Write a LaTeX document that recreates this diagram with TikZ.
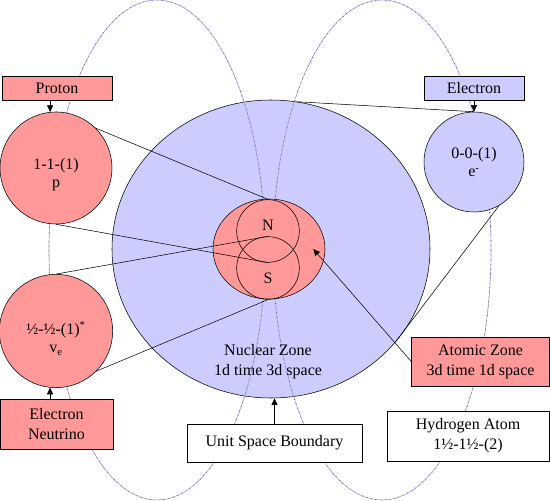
\documentclass[tikz,border=0pt]{standalone}
\usepackage{fontspec}
\setmainfont{Liberation Serif}
\definecolor{ZonePink}{RGB}{255,153,153}
\definecolor{ZoneLav} {RGB}{204,204,255}
\definecolor{OrbitBlue}{RGB}{165,165,235}
\definecolor{OrbitDark}{RGB}{110,60,70}
\usetikzlibrary{arrows.meta,positioning,shapes.geometric}
\pgfdeclarelayer{background}
\pgfdeclarelayer{foreground}
\pgfsetlayers{background,main,foreground}

\begin{document}
\begin{tikzpicture}[x=0.75pt,y=-0.75pt,line width=0.6pt,
  font=\fontsize{12}{15}\selectfont,
  zone/.style={ellipse,draw,inner sep=0pt},
  ball/.style={circle,draw,inner sep=0pt},
  pole/.style={circle,draw,inner sep=0pt,minimum size=47pt},
  tag/.style={draw,rectangle,inner sep=0pt,align=center},
  ctext/.style={align=center,inner sep=0pt,
                font=\fontsize{12}{14}\selectfont},
  orbit/.style={draw=OrbitBlue,line width=0.5pt,
                postaction={draw=OrbitDark,line width=0.5pt,
                            dash pattern=on 0.5pt off 3pt}},
  arr/.style={-{Triangle[length=5pt,width=4.5pt]}}]
  \useasboundingbox (0,0) rectangle (550,500);
  % zones and orbits
  \begin{pgfonlayer}{background}
    \node[zone,fill=ZoneLav,minimum width=238.5pt,minimum height=223.5pt]
         (nuclear) at (271,249) {};
    \draw[orbit] (157,250) ellipse [x radius=108,y radius=250];
    \draw[orbit] (382,250) ellipse [x radius=109,y radius=250];
    \node[zone,fill=ZonePink,minimum width=84pt,minimum height=75pt]
         (atomic) at (269,249) {};
    \node[pole](N) at (268,231) {};
    \node[pole](S) at (268,268) {};
    \node(Ntext) at ([yshift=4.5pt]N.center) {N};
    \node(Stext) at ([yshift=-7.5pt]S.center) {S};
    \node[align=center](nucText) at (268,362) {Nuclear Zone\\1d time 3d space};
  \end{pgfonlayer}
  % particles and labels
  \begin{pgfonlayer}{foreground}
    \node[ball,fill=ZonePink,minimum size=84pt](proton) at (56,168) {};
    \node[ctext](protonText) at ([yshift=-5pt]proton.center) {1-1-(1)\\p};
    \node[ball,fill=ZonePink,minimum size=85pt](neutrino) at (56,331) {};
    \node[ctext](neutrinoText) at ([yshift=-5.5pt]neutrino.center)
         {½-½-(1)\textsuperscript{*}\\v\textsubscript{e}};
    \node[ball,fill=ZoneLav,minimum size=75pt](electron) at (474,162) {};
    \node[ctext](electronText) at (electron.center) {0-0-(1)\\e\textsuperscript{-}};
    \node[tag,fill=ZonePink,minimum width=82.5pt,minimum height=18pt]
         (protonBox) at (57,88) {Proton};
    \node[tag,fill=ZoneLav,minimum width=75pt,minimum height=18pt]
         (electronBox) at (474,88) {Electron};
    \node[tag,fill=ZonePink,minimum width=84.75pt,minimum height=37.5pt]
         (neutrinoBox) at (56.5,424) {Electron\\Neutrino};
    \node[tag,fill=ZonePink,minimum width=103.5pt,minimum height=36.75pt]
         (atomicBox) at (480.5,361.5) {Atomic Zone\\3d time 1d space};
    \node[tag,fill=white,minimum width=121.5pt,minimum height=37.5pt]
         (hydrogenBox) at (468,436) {Hydrogen Atom\\1½-1½-(2)};
    \node[tag,fill=white,minimum width=131.25pt,minimum height=28.5pt]
         (unitBox) at (274.5,443) {Unit Space Boundary};
  \end{pgfonlayer}
  % connectors
  \draw (proton.north) -- (N.north);
  \draw (proton.south) -- (N.south);
  \draw (neutrino.north) -- (S.north);
  \draw (neutrino.south) -- (S.south);
  \draw (electron.north) -- (nuclear.80);
  \draw (electron.-60) -- (nuclear.-37);
  \draw[arr] (protonBox.south -| proton.96) -- (proton.96);
  \draw[arr] (electronBox.south) -- (electron.north);
  \draw[arr] (neutrinoBox.north -| neutrino.264) -- (neutrino.264);
  \draw[arr] (unitBox.north) -- (unitBox.north |- nuclear.south);
  \draw[arr] (atomicBox.west) -- ([xshift=-9pt]atomic.east);
\end{tikzpicture}
\end{document}
